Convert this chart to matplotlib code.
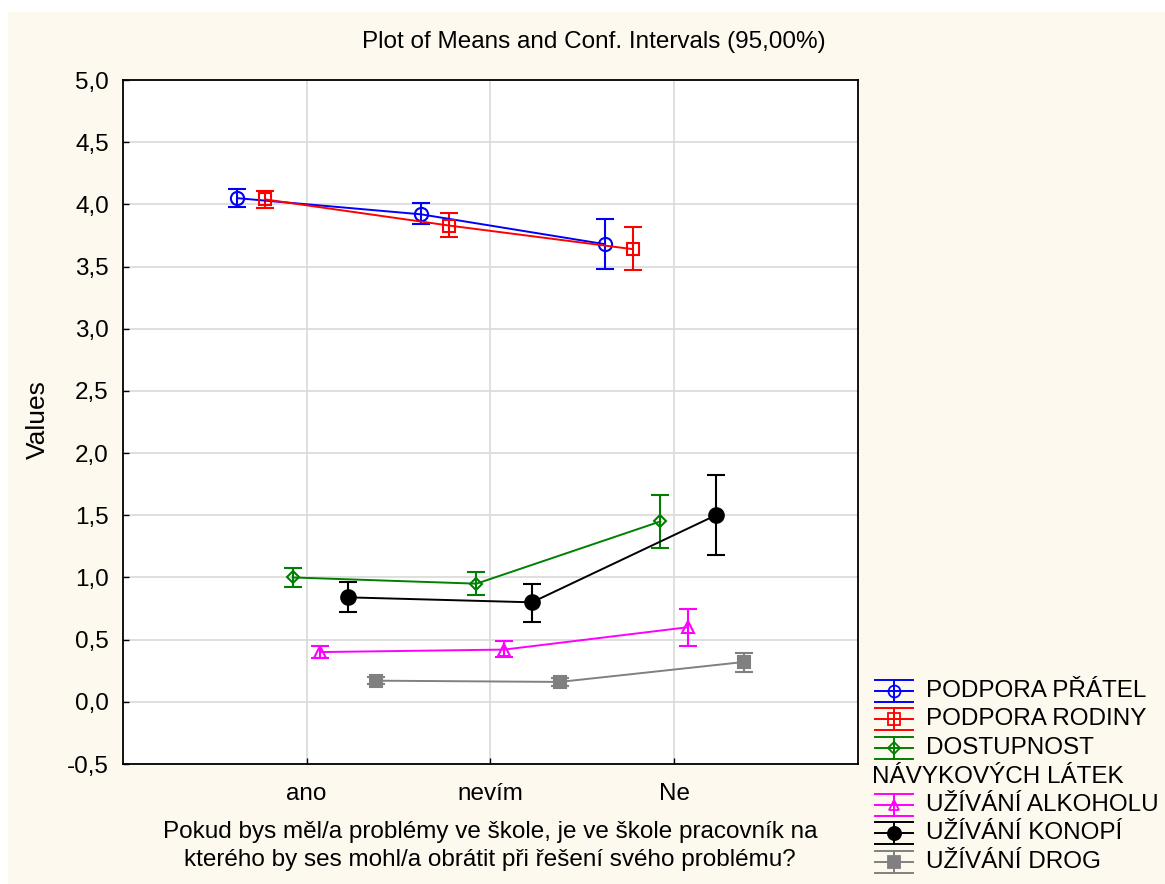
import matplotlib
matplotlib.use("Agg")
import matplotlib.pyplot as plt
from matplotlib.lines import Line2D
from matplotlib.patches import Rectangle
import numpy as np

plt.rcParams['font.family'] = ['Liberation Sans', 'DejaVu Sans']

categories = ["ano", "nevím", "Ne"]
series_names = ["PODPORA PŘÁTEL", "PODPORA RODINY", "DOSTUPNOST\nNÁVYKOVÝCH LÁTEK",
                "UŽÍVÁNÍ ALKOHOLU", "UŽÍVÁNÍ KONOPÍ", "UŽÍVÁNÍ DROG"]

podpora_pratel = [4.05, 3.92, 3.68]
podpora_pratel_lo = [3.98, 3.84, 3.48]
podpora_pratel_hi = [4.12, 4.01, 3.88]

podpora_rodiny = [4.04, 3.83, 3.64]
podpora_rodiny_lo = [3.97, 3.74, 3.47]
podpora_rodiny_hi = [4.11, 3.93, 3.82]

dostupnost = [1.00, 0.95, 1.45]
dostupnost_lo = [0.92, 0.86, 1.24]
dostupnost_hi = [1.08, 1.04, 1.66]

alkohol = [0.40, 0.42, 0.60]
alkohol_lo = [0.35, 0.36, 0.45]
alkohol_hi = [0.45, 0.49, 0.75]

konopi = [0.84, 0.80, 1.50]
konopi_lo = [0.72, 0.64, 1.18]
konopi_hi = [0.96, 0.95, 1.82]

drogy = [0.17, 0.16, 0.32]
drogy_lo = [0.14, 0.13, 0.24]
drogy_hi = [0.20, 0.19, 0.39]

means = [podpora_pratel, podpora_rodiny, dostupnost, alkohol, konopi, drogy]
lows = [podpora_pratel_lo, podpora_rodiny_lo, dostupnost_lo, alkohol_lo, konopi_lo, drogy_lo]
highs = [podpora_pratel_hi, podpora_rodiny_hi, dostupnost_hi, alkohol_hi, konopi_hi, drogy_hi]

colors = ["#0000ff", "#ff0000", "#008000", "#ff00ff", "#000000", "#808080"]
markers = ["o", "s", "D", "^", "o", "s"]
msizes = [9.5, 9, 6.5, 8, 10.5, 9]
filled = [False, False, False, False, True, True]

FS = 17.5
W, H = 1165, 884
fig = plt.figure(figsize=(W / 100, H / 100), dpi=100)
fig.patch.set_facecolor("white")
fig.add_artist(Rectangle((8 / W, 0), 1, 1 - 12 / H, transform=fig.transFigure,
                         facecolor="#fef9ee", edgecolor="none", zorder=-10))

ax = fig.add_axes([122.7 / W, 1 - 764 / H, (858 - 122.7) / W, (764 - 80) / H])
ax.set_facecolor("white")

x = np.arange(1, len(categories) + 1)
spacing = 0.151
for i, (m, lo, hi) in enumerate(zip(means, lows, highs)):
    off = (i - 2.5) * spacing
    xs = x + off
    m = np.array(m); lo = np.array(lo); hi = np.array(hi)
    ax.errorbar(xs, m, yerr=[m - lo, hi - m], color=colors[i], lw=1.4,
                elinewidth=1.5, capsize=6.5, capthick=1.5,
                marker=markers[i], ms=msizes[i],
                mfc=colors[i] if filled[i] else "none",
                mec=colors[i], mew=1.5, zorder=3)

ax.set_xlim(0, 4)
ax.set_ylim(-0.5, 5.0)
ax.set_xticks(x)
ax.set_xticklabels(categories, fontsize=FS)
yt = np.arange(-0.5, 5.01, 0.5)
ax.set_yticks(yt)
ax.set_yticklabels([f"{v:.1f}".replace(".", ",") for v in yt], fontsize=FS)
ax.tick_params(direction="in", length=4, width=1, pad=10)
ax.tick_params(axis="x", pad=14)
ax.grid(True, color="#d9d9d9", lw=1.2)
ax.set_axisbelow(True)
for s in ax.spines.values():
    s.set_linewidth(1.3)

fig.text(594 / W, 1 - 42 / H, "Plot of Means and Conf. Intervals (95,00%)",
         ha="center", va="center", fontsize=FS)
fig.text(38 / W, 1 - 420 / H, "Values", rotation=90, ha="center", va="center", fontsize=19)
fig.text(490 / W, 1 - 846 / H,
         "Pokud bys měl/a problémy ve škole, je ve škole pracovník na\n"
         "kterého by ses mohl/a obrátit při řešení svého problému?",
         ha="center", va="center", fontsize=FS, linespacing=1.3)

# manual legend
entry_y = [691, 719, 748, 805, 833, 862]
for i, yc in enumerate(entry_y):
    c = colors[i]
    x0, x1, xm = 875, 913, 894
    for yy in (yc - 11, yc, yc + 11):
        fig.add_artist(Line2D([x0 / W, x1 / W], [1 - yy / H, 1 - yy / H],
                              transform=fig.transFigure, color=c, lw=1.4))
    fig.add_artist(Line2D([xm / W, xm / W], [1 - (yc - 11) / H, 1 - (yc + 11) / H],
                          transform=fig.transFigure, color=c, lw=1.4))
    fig.add_artist(Line2D([xm / W], [1 - yc / H], transform=fig.transFigure,
                          marker=markers[i], ms=msizes[i] * 0.9, mec=c,
                          mfc=c if filled[i] else "none", mew=1.3, ls="none"))
    label = series_names[i].split("\n")[0]
    fig.text(926 / W, 1 - yc / H, label, ha="left", va="center", fontsize=FS)
fig.text(872 / W, 1 - 777 / H, "NÁVYKOVÝCH LÁTEK", ha="left", va="center", fontsize=FS)

fig.savefig("out.png", dpi=100)
